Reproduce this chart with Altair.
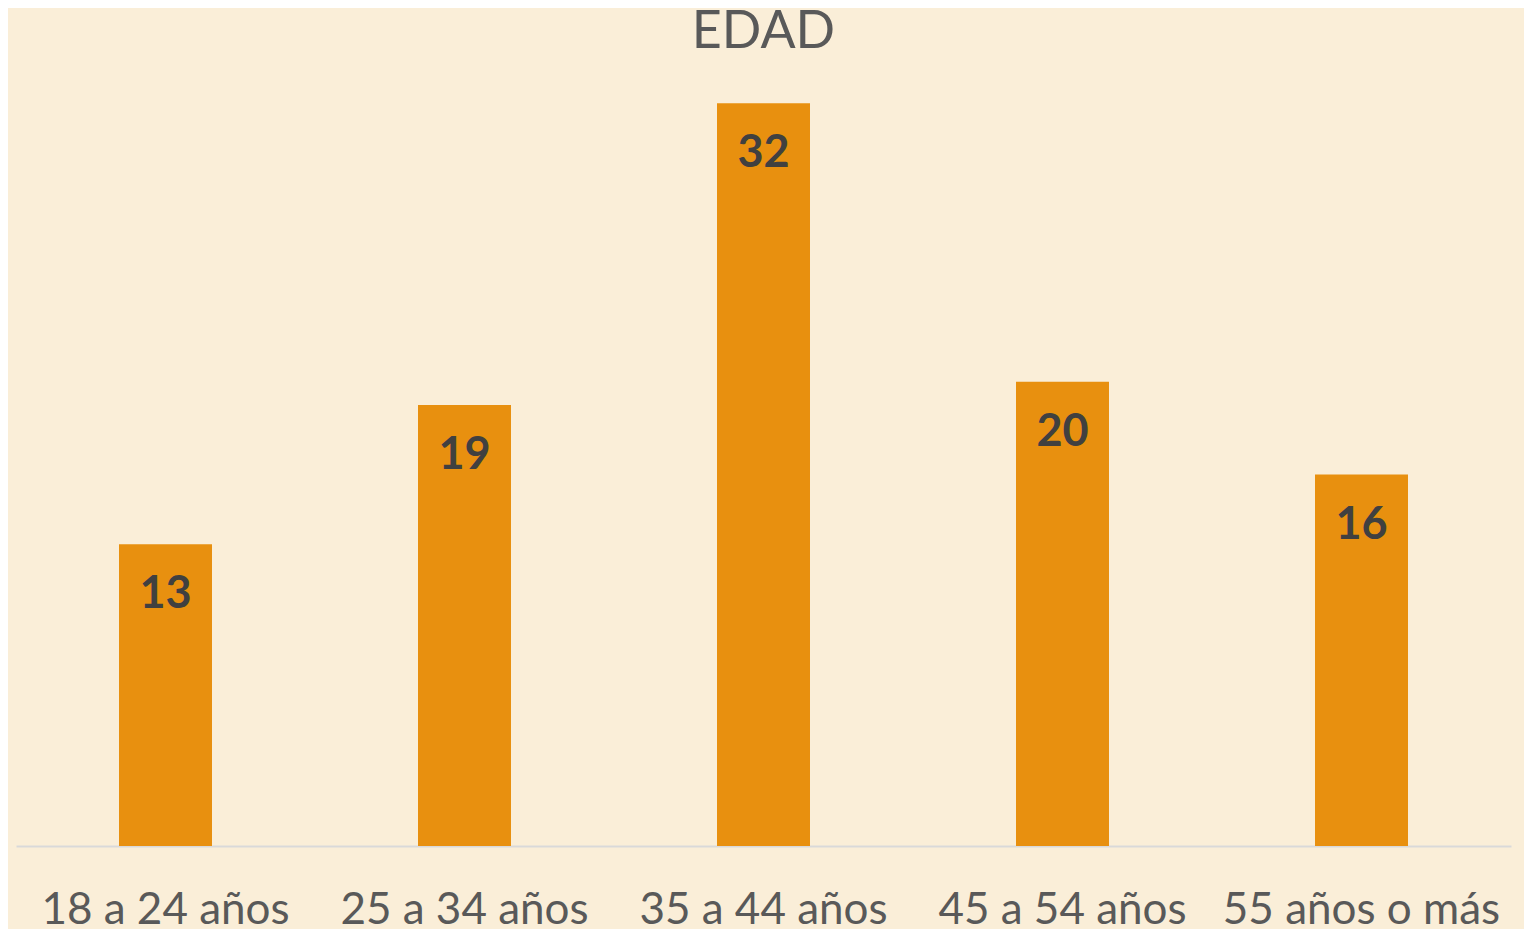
import altair as alt
import pandas as pd

categories = ["18 a 24 años", "25 a 34 años", "35 a 44 años", "45 a 54 años", "55 años o más"]
values = [13, 19, 32, 20, 16]

df = pd.DataFrame({"edad": categories, "valor": values})

FONT = "Lato"

x = alt.X(
    "edad:N",
    sort=categories,
    title=None,
    scale=alt.Scale(paddingInner=0.689, paddingOuter=0.3445),
    axis=alt.Axis(
        labelAngle=0,
        labelFont=FONT,
        labelFontSize=44,
        labelColor="#595959",
        labelBaseline="alphabetic",
        labelPadding=77,
        labelLimit=0,
        ticks=False,
        domainColor="#D9D9D9",
        domainWidth=2,
        grid=False,
    ),
)
y = alt.Y("valor:Q", title=None, scale=alt.Scale(domain=[0, 33], nice=False, zero=True), axis=None)

bars = alt.Chart(df).mark_bar(color="#E8900F").encode(x=x, y=y)
labels = alt.Chart(df).mark_text(
    font=FONT, fontSize=45, fontWeight="bold", color="#404040",
    baseline="alphabetic", dy=64,
).encode(x=x, y=y, text="valor:Q")

chart = (
    alt.layer(bars, labels)
    .properties(
        width=1495,
        height=766,
        autosize=alt.AutoSizeParams(type="none"),
        padding={"left": 8, "top": 72, "right": 13, "bottom": 83},
        background="#FAEED8",
        title=alt.TitleParams(
            "EDAD", font=FONT, fontSize=52, fontWeight="normal", color="#595959",
            anchor="middle", offset=21,
        ),
    )
    .configure_view(stroke=None)
)

chart.save("out.html", embed_options={"renderer": "svg", "actions": False})
